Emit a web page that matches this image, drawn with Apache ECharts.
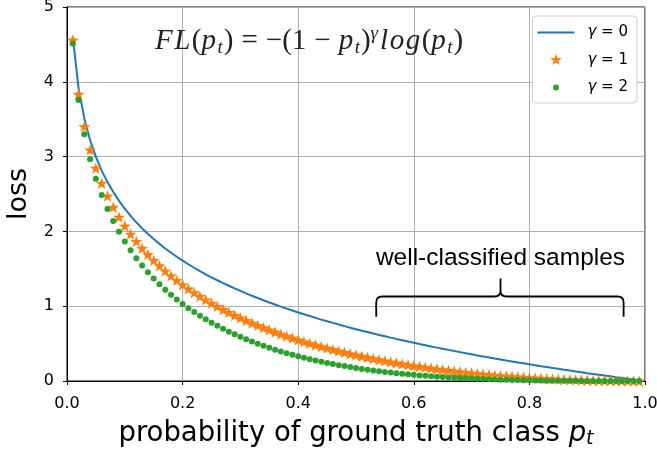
<!DOCTYPE html>
<html>
<head>
<meta charset="utf-8">
<script src="https://cdn.jsdelivr.net/npm/echarts@6/dist/echarts.min.js"></script>
<style>
  html, body { margin: 0; padding: 0; background: #fff; }
  #chart { width: 657px; height: 451px; }
</style>
</head>
<body>
<div id="chart"></div>
<script>
// probability of the ground-truth class
const pt = [0.01,0.02,0.03,0.04,0.05,0.06,0.07,0.08,0.09,0.10,
  0.11,0.12,0.13,0.14,0.15,0.16,0.17,0.18,0.19,0.20,
  0.21,0.22,0.23,0.24,0.25,0.26,0.27,0.28,0.29,0.30,
  0.31,0.32,0.33,0.34,0.35,0.36,0.37,0.38,0.39,0.40,
  0.41,0.42,0.43,0.44,0.45,0.46,0.47,0.48,0.49,0.50,
  0.51,0.52,0.53,0.54,0.55,0.56,0.57,0.58,0.59,0.60,
  0.61,0.62,0.63,0.64,0.65,0.66,0.67,0.68,0.69,0.70,
  0.71,0.72,0.73,0.74,0.75,0.76,0.77,0.78,0.79,0.80,
  0.81,0.82,0.83,0.84,0.85,0.86,0.87,0.88,0.89,0.90,
  0.91,0.92,0.93,0.94,0.95,0.96,0.97,0.98,0.99];

// loss for gamma = 0 (cross entropy)
const lossG0 = [4.605,3.912,3.507,3.219,2.996,2.813,2.659,2.526,2.408,2.303,
  2.207,2.120,2.040,1.966,1.897,1.833,1.772,1.715,1.661,1.609,
  1.561,1.514,1.470,1.427,1.386,1.347,1.309,1.273,1.238,1.204,
  1.171,1.139,1.109,1.079,1.050,1.022,0.994,0.968,0.942,0.916,
  0.892,0.868,0.844,0.821,0.799,0.777,0.755,0.734,0.713,0.693,
  0.673,0.654,0.635,0.616,0.598,0.580,0.562,0.545,0.528,0.511,
  0.494,0.478,0.462,0.446,0.431,0.416,0.400,0.386,0.371,0.357,
  0.342,0.329,0.315,0.301,0.288,0.274,0.261,0.248,0.236,0.223,
  0.211,0.198,0.186,0.174,0.163,0.151,0.139,0.128,0.117,0.105,
  0.094,0.083,0.073,0.062,0.051,0.041,0.030,0.020,0.010];

// loss for gamma = 1
const lossG1 = [4.559,3.834,3.402,3.090,2.846,2.644,2.473,2.324,2.191,2.072,
  1.964,1.866,1.775,1.691,1.612,1.540,1.471,1.406,1.345,1.287,
  1.233,1.181,1.132,1.085,1.040,0.997,0.956,0.917,0.879,0.843,
  0.808,0.775,0.743,0.712,0.683,0.654,0.626,0.600,0.575,0.550,
  0.526,0.503,0.481,0.460,0.439,0.420,0.400,0.382,0.364,0.347,
  0.330,0.314,0.298,0.283,0.269,0.255,0.242,0.229,0.216,0.204,
  0.193,0.182,0.171,0.161,0.151,0.141,0.132,0.123,0.115,0.107,
  0.099,0.092,0.085,0.078,0.072,0.066,0.060,0.055,0.050,0.045,
  0.040,0.036,0.032,0.028,0.024,0.021,0.018,0.015,0.013,0.011,
  0.008,0.007,0.005,0.004,0.003,0.002,0.001,0.000,0.000];

// loss for gamma = 2
const lossG2 = [4.513,3.757,3.300,2.966,2.704,2.485,2.300,2.138,1.994,1.865,
  1.748,1.642,1.544,1.454,1.370,1.294,1.221,1.153,1.089,1.030,
  0.974,0.921,0.872,0.825,0.780,0.738,0.698,0.660,0.624,0.590,
  0.558,0.527,0.498,0.470,0.444,0.419,0.394,0.372,0.351,0.330,
  0.310,0.292,0.274,0.258,0.241,0.227,0.212,0.199,0.186,0.173,
  0.162,0.151,0.140,0.130,0.121,0.112,0.104,0.096,0.089,0.082,
  0.075,0.069,0.063,0.058,0.053,0.048,0.044,0.039,0.036,0.032,
  0.029,0.026,0.023,0.020,0.018,0.016,0.014,0.012,0.010,0.009,
  0.008,0.006,0.005,0.004,0.004,0.003,0.002,0.002,0.001,0.001,
  0.001,0.001,0.000,0.000,0.000,0.000,0.000,0.000,0.000];

const seriesNames = ['γ = 0', 'γ = 1', 'γ = 2'];

// brace annotation (data units): left end, tip, right end / foot, bar, tip heights
const braceX = [0.535, 0.75, 0.963];
const braceY = [0.86, 1.13, 1.37];
const braceLabel = 'well-classified samples';
const braceLabelPos = [0.75, 1.64];

const toPairs = ys => pt.map((p, i) => [p, ys[i]]);

const STAR = 'path://M15,1 L16.43,5.03 L20.71,5.15 L17.31,7.75 L18.53,11.85 L15,9.43 L11.47,11.85 L12.69,7.75 L9.29,5.15 L13.57,5.03 Z';
// legend icons padded to a 37x14 box so the glyphs keep their own size
const LINE_ICON = 'path://M0,0 M37,14 M0,6 L37,6 L37,8 L0,8 Z';
const STAR_ICON = 'path://M0,0 M37,14 M18.5,1 L19.93,5.03 L24.21,5.15 L20.81,7.75 L22.03,11.85 L18.5,9.43 L14.97,11.85 L16.19,7.75 L12.79,5.15 L17.07,5.03 Z';
const DOT_ICON = 'path://M0,0 M37,14 M18.5,4 A3,3 0 1 1 18.5,10 A3,3 0 1 1 18.5,4 Z';

const sans = 'DejaVu Sans';
const serif = 'Liberation Serif';
const chart = echarts.init(document.getElementById('chart'), null, { renderer: 'canvas' });

// curly brace drawn in data space through the axis scales
function renderBrace(params, api) {
  const [xl, xm, xr] = braceX;
  const [yb, ybar, ytip] = braceY;
  const L = api.coord([xl, yb]), Lb = api.coord([xl, ybar]);
  const M = api.coord([xm, ybar]), T = api.coord([xm, ytip]);
  const R = api.coord([xr, yb]), Rb = api.coord([xr, ybar]);
  const r = 6;
  const d =
    `M${L[0]},${L[1]} L${Lb[0]},${Lb[1] + r} Q${Lb[0]},${Lb[1]} ${Lb[0] + r},${Lb[1]} ` +
    `L${M[0] - r},${M[1]} Q${M[0]},${M[1]} ${M[0]},${M[1] - r} L${T[0]},${T[1]} ` +
    `M${M[0]},${M[1] - r} Q${M[0]},${M[1]} ${M[0] + r},${M[1]} ` +
    `L${Rb[0] - r},${Rb[1]} Q${Rb[0]},${Rb[1]} ${Rb[0]},${Rb[1] + r} L${R[0]},${R[1]}`;
  const lp = api.coord(braceLabelPos);
  return {
    type: 'group',
    children: [
      { type: 'path', shape: { pathData: d },
        style: { fill: null, stroke: '#000', lineWidth: 1.8 } },
      { type: 'text', x: lp[0], y: lp[1],
        style: { text: braceLabel, fontFamily: 'Liberation Sans', fontSize: 24.5, fill: '#000',
          align: 'center', verticalAlign: 'middle' } }
    ]
  };
}

// focal loss formula, set with italic variables, sub- and superscripts
const fs = 29;
const formula =
  '{i|F}{i|L}{u|(}{i|p}{s|t}{u|)}{op|=}{u|−(1}{op|−}{i|p}{s|t}{u|)}{e|γ}{i|l}{i|o}{i|g}{u|(}{i|p}{s|t}{u|)}';

const option = {
  backgroundColor: '#fff',
  animation: false,
  grid: {
    left: 67, right: 12, top: 7, bottom: 70,
    outerBoundsMode: 'none', containLabel: false,
    show: true, borderColor: '#000', borderWidth: 1, backgroundColor: 'transparent'
  },
  legend: {
    orient: 'vertical',
    right: 20, top: 16,
    backgroundColor: '#fff',
    borderColor: '#cccccc', borderWidth: 1, borderRadius: 4,
    padding: [9, 9, 8, 5],
    itemWidth: 37, itemHeight: 14, itemGap: 12.5,
    textStyle: {
      fontFamily: sans, fontSize: 15, color: '#000', padding: [0, 0, 0, 8],
      rich: { g: { fontFamily: sans, fontStyle: 'italic', fontSize: 15, color: '#000' } }
    },
    formatter: name => name.replace('γ', '{g|γ}'),
    data: [
      { name: seriesNames[0], icon: LINE_ICON },
      { name: seriesNames[1], icon: STAR_ICON },
      { name: seriesNames[2], icon: DOT_ICON }
    ]
  },
  xAxis: {
    type: 'value', min: 0, max: 1, interval: 0.2,
    name: 'probability of ground truth class {i|p}{s|t}',
    nameLocation: 'middle', nameGap: 37,
    nameTextStyle: {
      fontFamily: sans, fontSize: 27.5, color: '#000',
      rich: {
        i: { fontFamily: sans, fontStyle: 'italic', fontSize: 27.5, color: '#000' },
        s: { fontFamily: sans, fontStyle: 'italic', fontSize: 19, color: '#000', padding: [12, 0, 0, 0] }
      }
    },
    axisLine: { show: true, lineStyle: { color: '#000', width: 1 } },
    axisTick: { show: true, length: 4, lineStyle: { color: '#000' } },
    axisLabel: { fontFamily: sans, fontSize: 16, color: '#000', margin: 15,
      formatter: v => v.toFixed(1), showMaxLabel: true, showMinLabel: true },
    splitLine: { show: true, lineStyle: { color: '#b0b0b0', width: 1 } }
  },
  yAxis: {
    type: 'value', min: 0, max: 5, interval: 1,
    name: 'loss', nameLocation: 'middle', nameGap: 29, nameRotate: 90,
    nameTextStyle: { fontFamily: sans, fontSize: 27, color: '#000' },
    axisLine: { show: true, lineStyle: { color: '#000', width: 1 } },
    axisTick: { show: true, length: 4, lineStyle: { color: '#000' } },
    axisLabel: { fontFamily: sans, fontSize: 16, color: '#000', margin: 13 },
    splitLine: { show: true, lineStyle: { color: '#b0b0b0', width: 1 } }
  },
  graphic: [
    {
      type: 'text', z: 10, x: 155, y: 41,
      style: {
        text: formula,
        verticalAlign: 'middle', align: 'left',
        rich: {
          i: { fontFamily: serif, fontStyle: 'italic', fontSize: fs, fill: '#222', padding: [0, 1.5, 0, 0] },
          u: { fontFamily: serif, fontSize: fs, fill: '#222' },
          op: { fontFamily: serif, fontSize: fs, fill: '#222', padding: [0, 8, 0, 8] },
          s: { fontFamily: serif, fontStyle: 'italic', fontSize: 19, fill: '#222', padding: [13, 1, 0, 0] },
          e: { fontFamily: serif, fontStyle: 'italic', fontSize: 19, fill: '#222', padding: [0, 2, 15, 0] }
        }
      }
    }
  ],
  series: [
    {
      name: seriesNames[0], type: 'line', data: toPairs(lossG0),
      showSymbol: false, symbol: 'none',
      lineStyle: { color: '#1f77b4', width: 2 }, itemStyle: { color: '#1f77b4' },
      z: 2
    },
    {
      name: seriesNames[1], type: 'scatter', data: toPairs(lossG1),
      symbol: STAR, symbolSize: 12, symbolKeepAspect: true,
      itemStyle: { color: '#ff7f0e', opacity: 1 }, z: 3
    },
    {
      name: seriesNames[2], type: 'scatter', data: toPairs(lossG2),
      symbol: 'circle', symbolSize: 6,
      itemStyle: { color: '#2ca02c', opacity: 1 }, z: 4
    },
    {
      type: 'custom', name: 'brace', silent: true, z: 5,
      data: [[braceX[1], braceY[1]]],
      renderItem: renderBrace
    }
  ]
};
chart.setOption(option);
</script>
</body>
</html>
